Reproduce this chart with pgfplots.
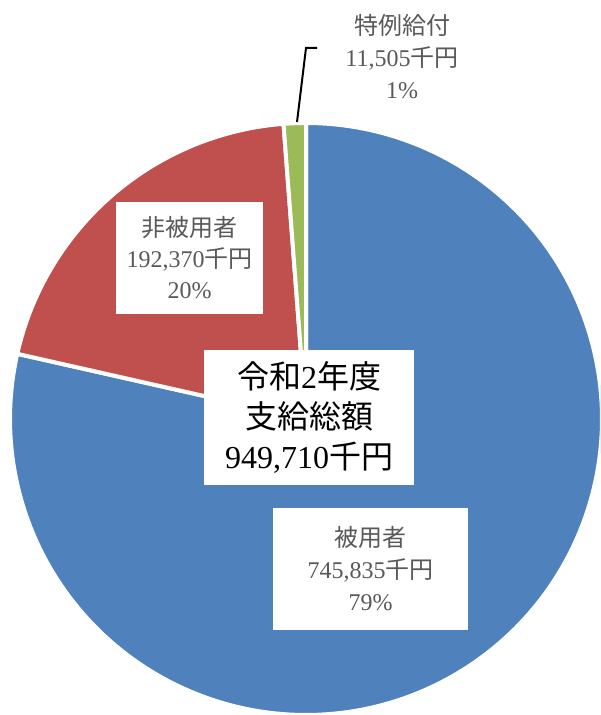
\documentclass[border=0pt]{standalone}
\usepackage{pgfplots}
\pgfplotsset{compat=1.18}
\usepackage{fontspec}
\setmainfont{Liberation Serif}
\newfontfamily\cjk{Noto Sans CJK JP}
\definecolor{cblue}{HTML}{4F81BD}
\definecolor{cred}{HTML}{C0504D}
\definecolor{cgreen}{HTML}{9BBB59}
\definecolor{lgray}{HTML}{595959}

% values (thousand yen)
\def\vA{745835}% 被用者
\def\vB{192370}% 非被用者
\def\vC{11505}%  特例給付
\edef\tot{\fpeval{\vA+\vB+\vC}}
\edef\aA{\fpeval{90-360*\vA/\tot}}
\edef\aB{\fpeval{\aA-360*\vB/\tot}}
\edef\aC{\fpeval{\aB-360*\vC/\tot}}

\begin{document}
\begin{tikzpicture}
\begin{axis}[width=300pt,height=357.5pt,scale only axis,
  xmin=0,xmax=600,ymin=0,ymax=715,hide axis,clip=true]
\addplot[fill=cblue,draw=white,line width=2pt,line join=round,domain=\aA:90,samples=200,variable=\t]
  ({306+296*cos(\t)},{296+296*sin(\t)}) -- (axis cs:306,296) -- cycle;
\addplot[fill=cred,draw=white,line width=2pt,line join=round,domain=\aB:\aA,samples=80,variable=\t]
  ({306+296*cos(\t)},{296+296*sin(\t)}) -- (axis cs:306,296) -- cycle;
\addplot[fill=cgreen,draw=white,line width=2pt,line join=round,domain=\aC:\aB,samples=10,variable=\t]
  ({306+296*cos(\t)},{296+296*sin(\t)}) -- (axis cs:306,296) -- cycle;
\addplot[black,line width=1pt] coordinates {(297,593) (306,667) (317,667)};
\path (rel axis cs:0,0) rectangle (rel axis cs:1,1);
\node[fill=white,minimum width=73.5pt,minimum height=56pt,inner sep=0pt,text=lgray,
  font=\fontsize{12pt}{15.5pt}\selectfont,align=center] at (axis cs:189.5,457)
  {{\cjk 非被用者}\\192,370{\cjk 千円}\\20\%};
\node[fill=white,minimum width=97.5pt,minimum height=61pt,inner sep=0pt,text=lgray,
  font=\fontsize{12pt}{16pt}\selectfont,align=center] at (axis cs:370.5,146)
  {{\cjk 被用者}\\745,835{\cjk 千円}\\79\%};
\node[fill=white,minimum width=105pt,minimum height=67.5pt,inner sep=0pt,text=black,
  font=\fontsize{16pt}{20pt}\selectfont,align=center] at (axis cs:309,297.5)
  {{\cjk 令和}2{\cjk 年度}\\{\cjk 支給総額}\\949,710{\cjk 千円}};
\node[inner sep=0pt,text=lgray,font=\fontsize{12pt}{16pt}\selectfont,align=center]
  at (axis cs:402,658) {{\cjk 特例給付}\\11,505{\cjk 千円}\\1\%};
\end{axis}
\end{tikzpicture}
\end{document}
